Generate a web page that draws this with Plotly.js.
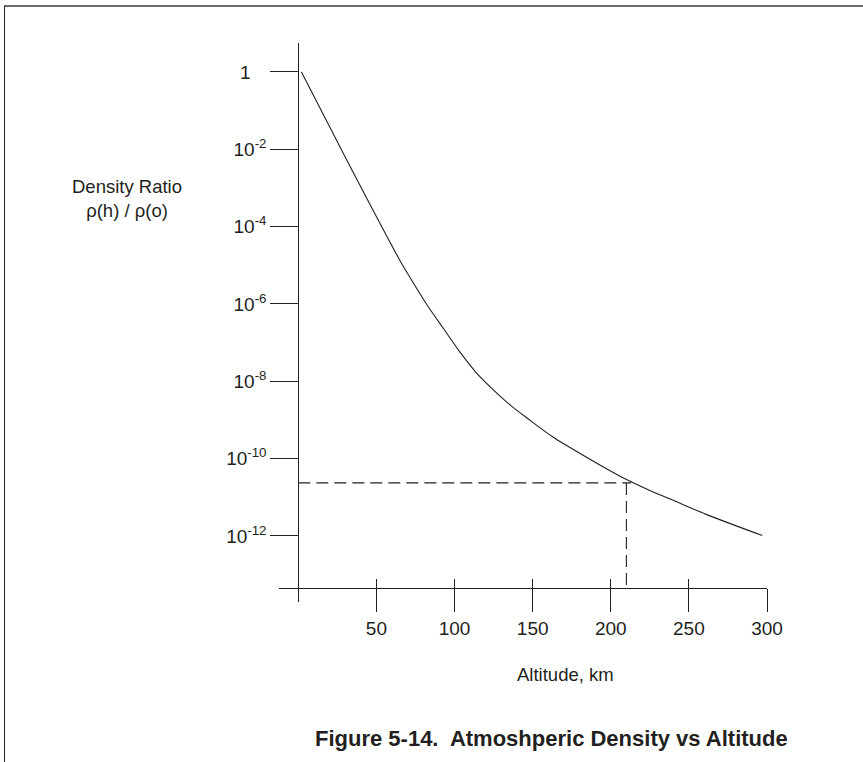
<!DOCTYPE html>
<html>
<head>
<meta charset="utf-8">
<script src="https://cdn.plot.ly/plotly-3.0.1.min.js"></script>
<style>
  html, body { margin: 0; padding: 0; background: #fff; }
  #wrap { position: relative; width: 863px; height: 762px; }
  #chart { width: 863px; height: 762px; }
  #frame { position: absolute; left: 4px; top: 5px; right: 0; bottom: 0;
           border-left: 1.5px solid #222; border-top: 2px solid #6b6b6b;
           pointer-events: none; }
</style>
</head>
<body>
<div id="wrap">
  <div id="chart"></div>
  <div id="frame"></div>
</div>
<script>
// Curve: altitude (km) vs density ratio rho(h)/rho(0)
const altitude = [2, 31, 64.5, 71.5, 82, 93, 103.5, 114, 125, 135.5, 147, 163, 185, 206, 225, 240, 261.5, 297];
const densityRatio = [1, 5.3e-3, 1.46e-5, 4.83e-6, 1.0e-6, 2.28e-7, 5.66e-8, 1.65e-8, 5.9e-9, 2.45e-9, 1.07e-9, 3.6e-10, 1.05e-10, 3.5e-11, 1.5e-11, 8.3e-12, 3.55e-12, 1.02e-12];

// Dashed reading guide (altitude 210 km)
const guideAlt = [0, 213, null, 210, 210];
const guideRatio = [2.35e-11, 2.35e-11, null, 2.35e-11, 4.6e-14];

// Tick labels
const xTickVals = [50, 100, 150, 200, 250, 300];
const xTickText = ['50', '100', '150', '200', '250', '300'];
const yTickVals = [1, 1e-2, 1e-4, 1e-6, 1e-8, 1e-10, 1e-12];
const yTickText = ['1\u00a0\u00a0\u00a0', '10<sup>-2</sup>', '10<sup>-4</sup>', '10<sup>-6</sup>', '10<sup>-8</sup>', '10<sup>-10</sup>', '10<sup>-12</sup>'];

const ink = '#231f20';
const fam = 'Liberation Sans, Arial, Helvetica, sans-serif';

const traces = [
  { x: altitude, y: densityRatio, type: 'scatter', mode: 'lines',
    line: { color: ink, width: 1.1, shape: 'spline', smoothing: 0.8 },
    xaxis: 'x', yaxis: 'y', hoverinfo: 'skip', showlegend: false },
  { x: guideAlt, y: guideRatio, type: 'scatter', mode: 'lines',
    line: { color: ink, width: 1.1, dash: '12px,6px' },
    xaxis: 'x2', yaxis: 'y', hoverinfo: 'skip', showlegend: false, connectgaps: false }
];

const xr = [-12.36, 300];
const layout = {
  width: 863, height: 762,
  margin: { l: 279, r: 96, t: 43, b: 160, pad: 0 },
  paper_bgcolor: '#fff', plot_bgcolor: '#fff',
  font: { family: fam, size: 19, color: ink },
  showlegend: false,
  xaxis: {
    range: xr, anchor: 'free', position: 0.025,
    showline: true, linecolor: ink, linewidth: 1,
    showgrid: false, zeroline: false,
    tickmode: 'array', tickvals: xTickVals, ticktext: xTickText,
    ticks: 'outside', ticklen: 23, tickwidth: 1, tickcolor: ink,
    tickfont: { family: fam, size: 19, color: ink },
    ticklabelstandoff: 0
  },
  xaxis2: {
    range: xr, overlaying: 'x', anchor: 'free', position: 0.025, side: 'bottom',
    showline: false, showgrid: false, zeroline: false,
    tickmode: 'array', tickvals: xTickVals,
    ticks: 'inside', ticklen: 9, tickwidth: 1, tickcolor: ink,
    showticklabels: false
  },
  yaxis: {
    type: 'log', range: [-13.71, 0.75], anchor: 'free', position: 0.0396,
    showline: true, linecolor: ink, linewidth: 1,
    showgrid: false, zeroline: false,
    tickmode: 'array', tickvals: yTickVals, ticktext: yTickText,
    ticks: 'outside', ticklen: 28, tickwidth: 1, tickcolor: ink,
    tickfont: { family: fam, size: 19, color: ink },
    ticklabelstandoff: 0
  },
  annotations: [
    { xref: 'paper', yref: 'paper', x: -0.3115, y: 0.722, xanchor: 'center', yanchor: 'middle',
      text: 'Density Ratio<br>ρ(h) / ρ(o)', showarrow: false, align: 'center',
      font: { family: fam, size: 18.5, color: ink } },
    { xref: 'paper', yref: 'paper', x: 0.588, y: -0.129, xanchor: 'center', yanchor: 'middle',
      text: 'Altitude, km', showarrow: false,
      font: { family: fam, size: 18.5, color: ink } },
    { xref: 'paper', yref: 'paper', x: 0.559, y: -0.245, xanchor: 'center', yanchor: 'middle',
      text: '<b>Figure 5-14.  Atmoshperic Density vs Altitude</b>', showarrow: false,
      font: { family: fam, size: 22, color: ink } }
  ]
};

Plotly.newPlot('chart', traces, layout, { staticPlot: true, displayModeBar: false });
</script>
</body>
</html>
